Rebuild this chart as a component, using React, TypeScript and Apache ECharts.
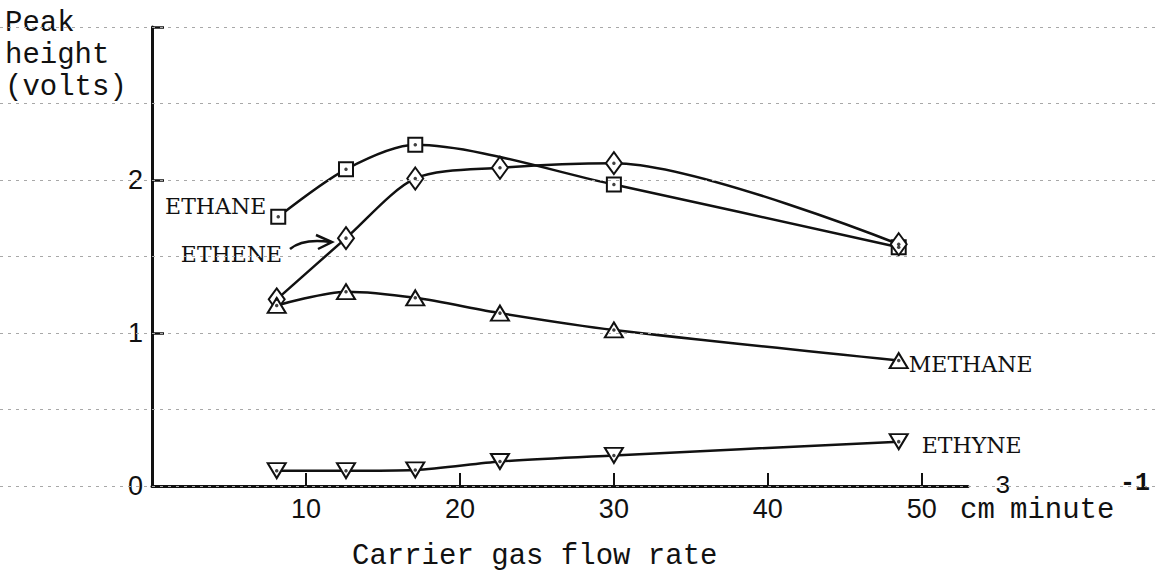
import React, { useEffect, useRef } from "react";
import * as echarts from "echarts";

// ---- data ----
const ethaneX = [8.2, 12.6, 17.1, 30.0, 48.5];
const ethaneY = [1.76, 2.07, 2.23, 1.97, 1.56];
const etheneX = [8.1, 12.6, 17.1, 22.6, 30.0, 48.5];
const etheneY = [1.22, 1.62, 2.01, 2.08, 2.11, 1.58];
const methaneX = [8.1, 12.6, 17.1, 22.6, 30.0, 48.5];
const methaneY = [1.18, 1.27, 1.23, 1.13, 1.02, 0.82];
const ethyneX = [8.1, 12.6, 17.1, 22.6, 30.0, 48.5];
const ethyneY = [0.1, 0.1, 0.105, 0.16, 0.2, 0.29];
const xTickValues = [10, 20, 30, 40, 50];
const yLabelValues = [0, 1, 2];
const yTickValues = [1, 2, 3];
const paperLineValues = [0, 0.5, 1, 1.5, 2, 2.5, 3];

const INK = "#111";
const LABEL_FONT = "DejaVu Serif";
const MONO = '"Liberation Mono"';

function pts(xs: number[], ys: number[]) {
  return xs.map((x, i) => [x, ys[i]]);
}

function withLabel(data: number[][], idx: number, label: any) {
  return data.map((p, i) =>
    i === idx
      ? {
          value: p,
          label: {
            show: true,
            fontFamily: LABEL_FONT,
            fontSize: 22,
            color: INK,
            ...label,
          },
        }
      : p
  );
}

export default function App() {
  const ref = useRef<HTMLDivElement>(null);
  useEffect(() => {
    if (!ref.current) return;
    const chart = echarts.init(ref.current, undefined, { renderer: "svg" });
    const lineBase = {
      type: "line",
      xAxisIndex: 0,
      yAxisIndex: 0,
      smooth: 0.28,
      lineStyle: { color: INK, width: 2.5 },
      itemStyle: { color: "#fff", borderColor: INK, borderWidth: 2 },
      showAllSymbol: true,
      z: 3,
    };
    const allDots = [
      ...pts(ethaneX, ethaneY),
      ...pts(etheneX, etheneY),
      ...pts(methaneX, methaneY),
      ...pts(ethyneX, ethyneY),
    ];
    chart.setOption({
      animation: false,
      backgroundColor: "#fff",
      grid: [
        { left: 152, top: 27, width: 816, height: 459 },
        { left: 0, top: 27, width: 1156, height: 459 },
      ],
      xAxis: [
        {
          type: "value",
          gridIndex: 0,
          min: 0,
          max: 53,
          interval: 10,
          axisLine: { lineStyle: { color: INK, width: 3 } },
          axisTick: {
            inside: true,
            length: 13,
            customValues: xTickValues,
            lineStyle: { color: INK, width: 2 },
          },
          axisLabel: {
            customValues: xTickValues,
            fontFamily: "Liberation Sans",
            fontSize: 27,
            color: INK,
            margin: 9,
          },
          splitLine: { show: false },
          z: 4,
        },
        {
          type: "value",
          gridIndex: 1,
          min: 0,
          max: 1,
          show: false,
        },
      ],
      yAxis: [
        {
          type: "value",
          gridIndex: 0,
          min: 0,
          max: 3,
          interval: 1,
          axisLine: { show: true, lineStyle: { color: INK, width: 3 } },
          axisTick: {
            show: true,
            inside: true,
            length: 12,
            customValues: yTickValues,
            lineStyle: { color: INK, width: 2.5 },
          },
          axisLabel: {
            customValues: yLabelValues,
            fontFamily: "Liberation Sans",
            fontSize: 27,
            color: INK,
            margin: 9,
          },
          splitLine: { show: false },
          z: 4,
        },
        {
          type: "value",
          gridIndex: 1,
          min: 0,
          max: 3,
          show: false,
        },
      ],
      series: [
        {
          type: "line",
          name: "paper",
          xAxisIndex: 1,
          yAxisIndex: 1,
          data: [],
          silent: true,
          z: 1,
          markLine: {
            silent: true,
            symbol: "none",
            label: { show: false },
            lineStyle: { color: "#a8a8a8", type: [3, 5], width: 1 },
            data: paperLineValues.map((v) => ({ yAxis: v })),
          },
        },
        {
          ...lineBase,
          name: "ETHANE",
          symbol: "rect",
          symbolSize: 14,
          data: withLabel(pts(ethaneX, ethaneY), 0, {
            formatter: "ETHANE",
            position: "left",
            distance: 4,
            offset: [0, -10],
          }),
        },
        {
          ...lineBase,
          name: "ETHENE",
          symbol: "diamond",
          symbolSize: [16, 22],
          data: withLabel(pts(etheneX, etheneY), 1, {
            formatter: "ETHENE",
            position: "left",
            distance: 55,
            offset: [0, 16],
          }),
        },
        {
          ...lineBase,
          name: "METHANE",
          symbol: "triangle",
          symbolSize: [18, 15],
          data: withLabel(pts(methaneX, methaneY), methaneX.length - 1, {
            formatter: "METHANE",
            position: "right",
            distance: 0,
            offset: [0, 4],
          }),
        },
        {
          ...lineBase,
          name: "ETHYNE",
          symbol: "triangle",
          symbolRotate: 180,
          symbolSize: [18, 15],
          data: withLabel(pts(ethyneX, ethyneY), ethyneX.length - 1, {
            formatter: "ETHYNE",
            position: "right",
            distance: 13,
            offset: [0, 4],
          }),
        },
        {
          type: "scatter",
          name: "dots",
          xAxisIndex: 0,
          yAxisIndex: 0,
          symbol: "circle",
          symbolSize: 3.5,
          itemStyle: { color: INK },
          data: allDots,
          z: 5,
          silent: true,
        },
      ],
      graphic: [
        {
          type: "text",
          x: 5,
          y: 7,
          style: {
            text: "Peak\nheight\n(volts)",
            font: `29px ${MONO}`,
            lineHeight: 32,
            fill: INK,
          },
        },
        {
          type: "text",
          x: 352,
          y: 556,
          style: {
            text: "Carrier gas flow rate",
            font: `29px ${MONO}`,
            fill: INK,
            align: "left",
            verticalAlign: "middle",
          },
        },
        {
          type: "text",
          x: 960,
          y: 510,
          style: {
            text: "cm",
            font: `29px ${MONO}`,
            fill: INK,
            align: "left",
            verticalAlign: "middle",
          },
        },
        {
          type: "text",
          x: 995,
          y: 486,
          style: {
            text: "3",
            font: `26px ${MONO}`,
            fill: INK,
            align: "left",
            verticalAlign: "middle",
          },
        },
        {
          type: "text",
          x: 1010,
          y: 510,
          style: {
            text: "minute",
            font: `29px ${MONO}`,
            fill: INK,
            align: "left",
            verticalAlign: "middle",
          },
        },
        {
          type: "text",
          x: 1120,
          y: 483,
          style: {
            text: "-1",
            font: `bold 25px ${MONO}`,
            fill: INK,
            align: "left",
            verticalAlign: "middle",
          },
        },
        {
          type: "bezierCurve",
          shape: { x1: 290, y1: 249, x2: 331, y2: 242, cpx1: 303, cpy1: 238 },
          style: { stroke: INK, lineWidth: 2.5, fill: null },
        },
        {
          type: "polyline",
          shape: { points: [[316, 235], [332, 242], [318, 249]] },
          style: { stroke: INK, lineWidth: 2.5, fill: null },
        },
      ],
    });
    return () => chart.dispose();
  }, []);
  return (
    <div
      ref={ref}
      style={{
        position: "fixed",
        left: 0,
        top: 0,
        width: 1156,
        height: 575,
        background: "#fff",
      }}
    />
  );
}
